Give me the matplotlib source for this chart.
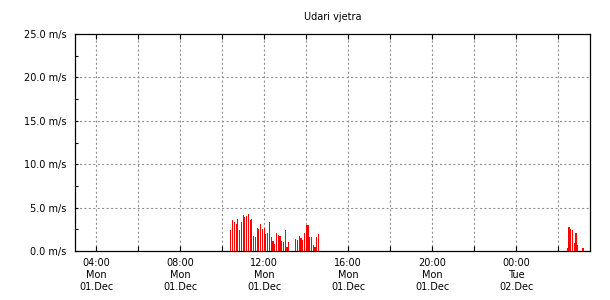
import matplotlib
matplotlib.use("Agg")
import matplotlib.pyplot as plt
import matplotlib.dates as mdates
import pandas as pd

# ---- data (5-minute wind gust samples, m/s) ----
title = "Udari vjetra"
start_a = "2025-12-01 10:25"
gusts_a = [2.42, 3.57, 3.34, 3.10, 3.69, 2.42, 3.34, 4.15, 3.92, 4.03,
           4.26, 3.57, 3.69, 1.73, 1.61, 2.65, 2.53, 3.10, 2.53, 2.65,
           1.96, 2.07, 3.34, 1.61, 1.15, 0.80, 2.07, 1.84, 1.73, 1.15,
           1.04, 2.42, 0.46, 1.04, 0.0, 0.0, 0.0, 1.38, 1.27, 1.73,
           1.50, 1.27, 2.07, 3.00, 3.00, 1.61, 1.61, 0.69, 0.46, 1.61,
           1.96]
start_b = "2025-12-02 02:25"
gusts_b = [0.30, 2.76, 2.50, 2.40, 0.90, 2.10, 0.70, 0.0, 0.0, 0.35]

x_start = "2025-12-01 03:00"
x_end = "2025-12-02 03:30"
y_max = 25.0
y_ticks = [0.0, 5.0, 10.0, 15.0, 20.0, 25.0]
y_labels = ["0.0 m/s", "5.0 m/s", "10.0 m/s", "15.0 m/s", "20.0 m/s", "25.0 m/s"]
x_tick_times = ["2025-12-01 04:00", "2025-12-01 08:00", "2025-12-01 12:00",
                "2025-12-01 16:00", "2025-12-01 20:00", "2025-12-02 00:00"]
x_tick_labels = ["04:00\nMon\n01.Dec", "08:00\nMon\n01.Dec", "12:00\nMon\n01.Dec",
                 "16:00\nMon\n01.Dec", "20:00\nMon\n01.Dec", "00:00\nTue\n02.Dec"]

plt.rcParams['font.family'] = ['DejaVu Sans']

fig = plt.figure(figsize=(6.1, 3.0), dpi=100)
fig.patch.set_facecolor("white")
ax = fig.add_axes([75/610, 1-251/300, (590-75)/610, (251-34)/300])

t_a = pd.date_range(start_a, periods=len(gusts_a), freq="5min")
t_b = pd.date_range(start_b, periods=len(gusts_b), freq="5min")
bw = 3.2 / (24*60)
ax.bar(t_a, gusts_a, width=bw, color="#ff0000", linewidth=0, align="center", zorder=3)
ax.bar(t_b, gusts_b, width=bw, color="#ff0000", linewidth=0, align="center", zorder=3)

ax.set_xlim(pd.Timestamp(x_start), pd.Timestamp(x_end))
ax.set_ylim(0, y_max)

ax.set_yticks(y_ticks)
ax.set_yticklabels(y_labels)
ax.yaxis.set_minor_locator(matplotlib.ticker.MultipleLocator(2.5))

ax.set_xticks([pd.Timestamp(t) for t in x_tick_times])
ax.set_xticklabels(x_tick_labels, linespacing=1.25)
ax.xaxis.set_minor_locator(mdates.HourLocator(byhour=range(0, 24, 2)))

ax.tick_params(axis="both", which="both", direction="in", labelsize=7, colors="black")
ax.tick_params(axis="x", which="both", top=True, bottom=True, length=3.5, width=0.8, pad=5)
ax.tick_params(axis="y", which="both", left=True, right=False, length=2.5, width=0.8, pad=6)

# grid
for yv in y_ticks[1:-1]:
    ax.axhline(yv, color="#8c8c8c", linewidth=0.8, dashes=(1.8, 2.2), zorder=1)
for t in pd.date_range("2025-12-01 04:00", "2025-12-02 02:00", freq="2h"):
    ax.axvline(t, color="#8c8c8c", linewidth=0.8, dashes=(1.8, 2.2), zorder=1)

for s in ax.spines.values():
    s.set_linewidth(0.9)
    s.set_color("black")

fig.text((75+590)/2/610, 1-17/300, title, ha="center", va="center", fontsize=7)

fig.savefig("out.png", dpi=100)
